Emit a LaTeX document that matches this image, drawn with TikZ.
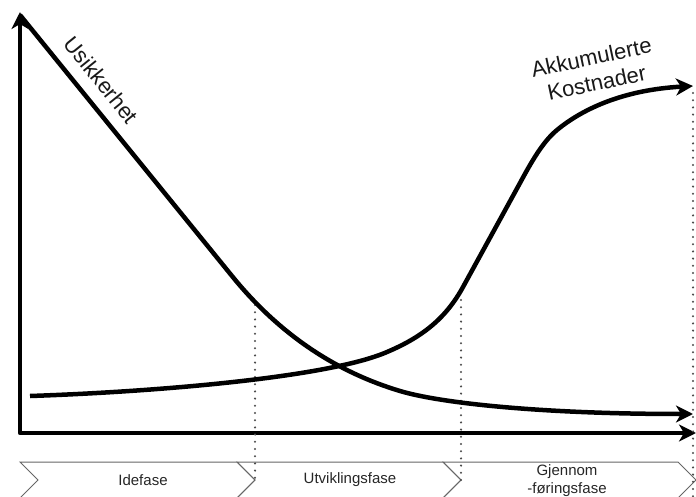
\documentclass[tikz,border=0pt]{standalone}
\usepackage{fontspec}
\setmainfont{Liberation Sans}
\usetikzlibrary{arrows.meta}
\begin{document}
\begin{tikzpicture}[x=1pt,y=-1pt,
  heavy/.style={line width=4.5pt, line join=round},
  tipped/.style={-{Stealth[length=17pt,width=17pt,inset=5pt]}},
  doubletipped/.style={{Stealth[length=17pt,width=17pt,inset=5pt]}-{Stealth[length=17pt,width=17pt,inset=5pt]}},
  guide/.style={line width=2.3pt, dash pattern=on 0pt off 7.2pt, line cap=round, draw=black!70},
  phasebox/.style={draw=black!60, line width=1pt, line join=miter},
  phasetext/.style={font=\fontsize{15}{18}\selectfont, text=black!85, align=center},
  curvelabel/.style={font=\fontsize{22}{26}\selectfont, text=black!90, align=center, inner sep=0pt}]

\useasboundingbox (0,0) rectangle (696,497);

% axes
\coordinate (ytop) at (20,12);
\coordinate (origin) at (20,433);
\coordinate (xend) at (696,433);
\draw[heavy, doubletipped] (ytop) -- (origin) -- (xend);

% project phases as chevrons
\draw[phasebox] (20,462) -- (237,462) -- (255,480) -- (237,498) -- (20,498) -- (38,480) -- cycle;
\draw[phasebox] (237,462) -- (443,462) -- (461,480) -- (443,498) -- (237,498) -- (255,480) -- cycle;
\draw[phasebox] (443,462) -- (678,462) -- (696,480) -- (678,498) -- (443,498) -- (461,480) -- cycle;
\node[phasetext] (idefase) at (143,480) {Idefase};
\node[phasetext] (utvikling) at (350,480) {Utviklingsfase};
\node[phasetext] (gjennom) at (567,481) {Gjennom\\-føringsfase};

% phase boundaries
\coordinate (b1top) at (255,305);
\coordinate (b1bot) at (255,480);
\coordinate (b2top) at (461,300);
\coordinate (b2bot) at (461,480);
\coordinate (b3top) at (693,93);
\coordinate (b3bot) at (693,497);
\draw[guide] (b1top) -- (b1bot);
\draw[guide] (b2top) -- (b2bot);
\draw[guide] (b3top) -- (b3bot);

% uncertainty curve
\coordinate (u0) at (20,15);
\coordinate (u1) at (232,276);
\coordinate (u2) at (400,391);
\coordinate (u3) at (693,414);
\draw[heavy, tipped] (u0) -- (u1)
  .. controls (282,337.7) and (340,373) .. (u2)
  .. controls (440,403) and (540,414) .. (u3);

% accumulated cost curve
\coordinate (k0) at (30,396);
\coordinate (k1) at (387,352);
\coordinate (k2) at (463,287);
\coordinate (k3) at (520,183);
\coordinate (k4) at (557,130);
\coordinate (k5) at (693,86);
\draw[heavy, tipped] (k0)
  .. controls (150,392) and (327,378) .. (k1)
  .. controls (420,338) and (445,320) .. (k2)
  -- (k3)
  .. controls (535,155) and (545,140) .. (k4)
  .. controls (580,111) and (620,90) .. (k5);

% curve labels
\node[curvelabel, rotate=-51] (usikkerhet) at (101,80) {Usikkerhet};
\node[curvelabel, rotate=12] (kostnader) at (594,70) {Akkumulerte\\Kostnader};
\end{tikzpicture}
\end{document}
